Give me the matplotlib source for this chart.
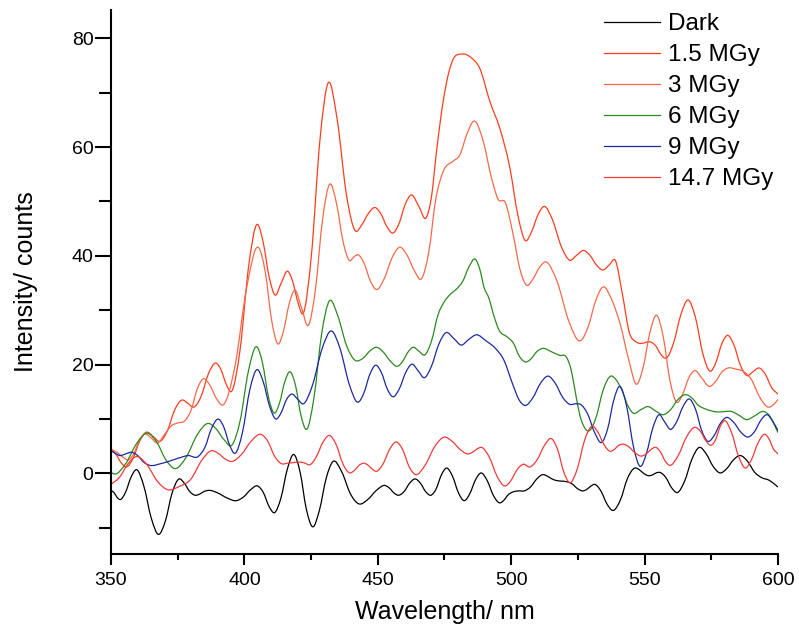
import matplotlib
matplotlib.use("Agg")
import numpy as np
import matplotlib.pyplot as plt
from matplotlib.lines import Line2D
from matplotlib.path import Path
from matplotlib.patches import PathPatch
from matplotlib.ticker import MultipleLocator

plt.rcParams["font.family"] = ["Liberation Sans", "DejaVu Sans"]

# luminescence spectra (wavelength in nm, intensity in counts)
DARK = [
    (350, -3.1), (351.1, -3.5), (352.3, -4.4), (353.4, -4.8), (355.5, -3.4), (357.5, -0.7),
    (359.6, 0.7), (362.3, -2.3), (365.1, -8.2), (367.8, -11.2), (370.4, -8.7), (372.9, -3.6),
    (375.5, -1.0), (377.5, -1.8), (379.5, -3.3), (381.5, -4.0), (383.2, -3.8), (384.9, -3.3),
    (386.6, -3.1), (390.1, -3.6), (393.5, -4.5), (397, -5.0), (399.7, -4.3), (402.3, -3.0),
    (405, -2.3), (407.1, -3.5), (409.2, -6.0), (411.3, -7.2), (413.7, -4.5), (416.1, 0.8),
    (418.5, 3.5), (420.9, 0.2), (423.2, -6.5), (425.6, -9.8), (428.1, -6.8), (430.7, -0.8),
    (433.2, 2.2), (436.5, 0.3), (439.7, -3.7), (443, -5.6), (446.2, -4.8), (449.5, -3.1),
    (452.7, -2.2), (454.4, -2.7), (456.1, -3.6), (457.8, -4.0), (459.9, -3.3), (461.9, -1.8),
    (464, -1.0), (466, -1.8), (467.9, -3.3), (469.9, -4.0), (471.9, -2.8), (473.8, -0.3),
    (475.8, 1.0), (478, -0.5), (480.2, -3.5), (482.4, -5.0), (484.5, -3.7), (486.6, -1.2),
    (488.7, 0.1), (491, -1.3), (493.3, -4.0), (495.6, -5.4), (497.3, -4.9), (498.9, -3.9),
    (500.6, -3.4), (502.8, -3.2), (504.9, -3.2), (507.2, -2.5), (509.6, -1.0), (511.9, -0.2),
    (513.6, -0.5), (515.3, -1.0), (517, -1.3), (518.9, -1.4), (520.7, -1.5), (522.8, -1.9),
    (524.9, -2.8), (527, -3.2), (528.4, -2.9), (529.9, -2.3), (531.3, -2.0), (533.6, -3.2),
    (535.9, -5.6), (538.2, -6.8), (540.9, -4.9), (543.6, -0.9), (546.3, 1.0), (548, 0.7),
    (549.7, 0.0), (551.4, -0.4), (552.8, -0.3), (554.3, 0.1), (555.7, 0.2), (557.9, -0.7),
    (560.1, -2.6), (562.3, -3.5), (565, -1.4), (567.8, 2.7), (570.5, 4.8), (573.1, 3.6),
    (575.7, 1.3), (578.3, 0.1), (580.8, 0.9), (583.3, 2.5), (585.8, 3.3), (588.5, 2.3),
    (591.3, 0.2), (594, -0.8), (596.5, -1.2), (598.3, -1.8), (600, -2.5),
]

MGY_1_5 = [
    (350, 4.3), (351.9, 3.5), (353.9, 1.9), (355.8, 1.2), (358.3, 2.8), (360.8, 6.0),
    (363.3, 7.6), (365.8, 6.8), (368.3, 5.9), (371.1, 7.8), (373.8, 11.6), (376.6, 13.5),
    (378.8, 12.9), (381, 12.2), (383.8, 14.2), (386.5, 18.3), (389.3, 20.3), (391.3, 19.0),
    (393.2, 16.4), (395.2, 15.1), (398.4, 22.8), (401.6, 38.1), (404.8, 45.8), (407, 42.6),
    (409.3, 36.1), (411.5, 32.8), (413.8, 35.0), (416.2, 37.2), (418.1, 35.3), (420.1, 31.4),
    (422, 29.4), (425.1, 40.0), (428.3, 61.2), (431.4, 71.8), (434.8, 65.0), (438.2, 51.4),
    (441.6, 44.6), (444, 45.7), (446.5, 47.8), (448.9, 48.9), (451.2, 47.7), (453.4, 45.4),
    (455.7, 44.2), (458, 46.0), (460.3, 49.5), (462.6, 51.2), (465.4, 49.1), (468.1, 47.0),
    (470, 50.5), (472.2, 60.0), (474.5, 68.4), (476.5, 73.5), (478.2, 76.1), (481.4, 77.1),
    (485.1, 76.4), (488.2, 74.5), (492, 68.4), (495.7, 63.5), (499.5, 56.2), (502.5, 47.5),
    (505.3, 42.8), (507.6, 44.4), (510, 47.5), (512.3, 49.1), (515.5, 46.6), (518.8, 41.7),
    (522, 39.2), (524.5, 40.1), (527.1, 41.0), (529.5, 40.1), (532, 38.3), (534.4, 37.4),
    (536.7, 38.3), (539.1, 39.1), (541.5, 33.5), (544.4, 25.7), (546.5, 24.3), (548.8, 23.9),
    (550.4, 24.1), (552, 24.2), (554.1, 23.5), (556.1, 21.9), (558.1, 21.2), (560.8, 23.9),
    (563.6, 29.2), (566.3, 31.9), (569.1, 28.6), (571.8, 22.1), (574.6, 18.8), (576.8, 20.5),
    (578.9, 23.8), (581.1, 25.4), (583.5, 23.6), (585.9, 19.9), (588.3, 18.0), (590.6, 18.7),
    (592.9, 19.4), (595.3, 18.2), (597.6, 15.8), (600, 14.6),
]

MGY_3 = [
    (350, 4.5), (351.5, 4.1), (353, 3.6), (354.8, 2.9), (356.5, 2.5), (358.6, 3.7),
    (360.6, 6.1), (362.7, 7.3), (365.1, 6.5), (367.5, 5.6), (370.1, 7.2), (372.7, 8.8),
    (375.2, 9.3), (377.7, 9.7), (380, 11.6), (382.3, 15.5), (384.6, 17.4), (387.1, 16.2),
    (389.5, 13.8), (392, 12.6), (396.5, 19.8), (400.9, 34.3), (405.4, 41.5), (407.8, 37.1),
    (410.2, 28.2), (412.6, 23.8), (414.7, 26.3), (416.8, 31.2), (418.9, 33.7), (421.4, 30.5),
    (423.9, 27.2), (426.6, 33.7), (429.3, 46.7), (432, 53.2), (434.5, 49.7), (437, 42.6),
    (439.5, 39.1), (441, 39.8), (442.6, 40.2), (444.9, 38.6), (447.2, 35.4), (449.5, 33.8),
    (452.4, 35.8), (455.4, 39.7), (458.3, 41.6), (461, 40.1), (463.7, 37.3), (466.4, 35.8),
    (469.1, 40.7), (471.8, 50.6), (474.5, 55.5), (478.2, 57.4), (480.7, 58.5), (483.5, 62.5),
    (486.2, 64.8), (489.5, 61.1), (492.6, 54.4), (495.1, 50.4), (497.8, 49.8), (500.7, 44.0),
    (503.3, 37.5), (505.8, 34.6), (508.1, 35.7), (510.5, 37.8), (512.8, 38.9), (517.2, 35.3),
    (521.6, 28.0), (526, 24.4), (528.8, 26.9), (531.7, 31.8), (534.5, 34.3), (537.8, 31.8),
    (541, 27.2), (544, 21.0), (547, 16.4), (549.5, 19.6), (552, 25.9), (554.5, 29.1),
    (557, 25.1), (559.5, 17.1), (562, 13.1), (564.3, 14.6), (566.5, 17.5), (568.8, 18.9),
    (571.5, 17.5), (574.2, 16.0), (576.6, 16.9), (578.9, 18.6), (581.3, 19.4), (584.1, 19.2),
    (586.9, 18.8), (590, 17.3), (593.2, 14.0), (596.3, 12.2), (598.2, 12.6), (600, 13.6),
]

MGY_6 = [
    (350, 0.2), (351.4, -0.1), (355.5, 1.8), (359.6, 5.5), (363.7, 7.4), (367.1, 5.8),
    (370.6, 2.5), (374, 0.9), (378.2, 3.0), (382.3, 7.1), (386.5, 9.2), (389.4, 8.2),
    (392.4, 6.2), (395.3, 5.2), (398.4, 9.7), (401.5, 18.8), (404.6, 23.3), (406.8, 20.3),
    (409, 14.1), (411.2, 11.1), (413.2, 13.0), (415.1, 16.8), (417.1, 18.7), (419.2, 16.1),
    (421.2, 10.7), (423.3, 8.1), (426.1, 14.0), (429, 25.8), (431.8, 31.7), (435, 29.0),
    (438.3, 23.5), (441.5, 20.8), (444.5, 21.2), (447, 22.5), (449.5, 23.2), (452.1, 22.3),
    (454.8, 20.6), (457.4, 19.7), (459.3, 20.6), (461.3, 22.3), (463.2, 23.2), (465.4, 22.5),
    (467.6, 21.8), (470.1, 24.3), (472.6, 29.2), (475.1, 31.7), (477.3, 33.0), (479.5, 33.9),
    (481.8, 35.3), (484.2, 38.0), (486.5, 39.4), (488.2, 37.6), (489.9, 34.1), (491.6, 32.3),
    (493.5, 29.0), (495.4, 26.4), (498.5, 25.1), (500.8, 24.0), (503, 21.6), (505.3, 20.5),
    (507.5, 21.1), (509.6, 22.4), (511.8, 23.0), (515, 22.4), (518.2, 21.7), (520.7, 21.4),
    (522.5, 19.0), (524.2, 14.5), (525.8, 10.6), (527.3, 8.6), (529, 7.8), (531.8, 10.3),
    (534.5, 15.4), (537.3, 17.9), (539.5, 17.1), (541.6, 15.2), (543.6, 12.6), (545.7, 11.1),
    (548.5, 11.7), (551.3, 12.3), (554.1, 11.5), (556.9, 10.8), (559.7, 11.7), (562.5, 13.6),
    (565.3, 14.5), (567.7, 13.9), (570.2, 12.5), (572.6, 11.9), (575.1, 11.5), (577.6, 11.3),
    (580.1, 11.4), (582.6, 11.4), (585.4, 10.7), (588.2, 9.9), (591.3, 10.6), (594.4, 11.4),
    (597, 10.5), (598.6, 9.0), (600, 7.5),
]

MGY_9 = [
    (350, 4.2), (351.6, 3.7), (353.3, 3.3), (355.5, 3.6), (357.7, 3.9), (360, 3.3),
    (362.2, 2.1), (364.5, 1.5), (368.6, 1.8), (372.7, 2.4), (375.8, 2.9), (378.9, 3.3),
    (382.6, 3.1), (385.2, 4.8), (387.7, 8.3), (390.3, 10.0), (392.4, 8.4), (394.4, 5.3),
    (396.5, 3.7), (399.3, 7.6), (402, 15.3), (404.8, 19.1), (407.1, 16.8), (409.5, 12.3),
    (411.8, 10.0), (413.8, 11.2), (415.7, 13.5), (417.7, 14.6), (419.9, 13.7), (422, 12.8),
    (425.5, 16.2), (429.1, 22.9), (432.6, 26.2), (435.9, 22.9), (439.3, 16.4), (442.6, 13.1),
    (444.8, 14.8), (447, 18.2), (449.2, 19.9), (451.4, 18.5), (453.5, 15.6), (455.7, 14.1),
    (458.1, 15.6), (460.5, 18.6), (462.9, 20.1), (465.1, 18.9), (467.4, 17.6), (470.1, 19.7),
    (472.9, 23.8), (475.6, 25.9), (478.5, 24.8), (481.3, 23.6), (484, 24.6), (487, 25.5),
    (490.5, 24.4), (494.1, 23.0), (497.3, 20.8), (500.5, 16.5), (503, 13.5), (505.2, 12.5),
    (508.1, 13.9), (511, 16.6), (513.8, 17.9), (516.5, 16.6), (519.3, 14.0), (522, 12.7),
    (524, 12.8), (526, 12.7), (528.6, 11.0), (531.3, 7.5), (533.9, 5.7), (536.2, 8.3),
    (538.4, 13.4), (540.7, 16.0), (543.3, 12.3), (545.8, 5.0), (548.4, 1.3), (550.7, 3.7),
    (553.1, 8.4), (555.4, 10.8), (557.5, 9.5), (559.7, 8.1), (562, 9.5), (564.4, 12.3),
    (566.7, 13.7), (569.1, 11.8), (571.4, 7.9), (573.8, 5.9), (576.1, 7.0), (578.4, 9.2),
    (580.7, 10.3), (583.4, 9.4), (586.1, 7.6), (588.8, 6.7), (591.2, 7.7), (593.6, 9.8),
    (596, 10.8), (598, 9.6), (600, 7.9),
]

MGY_14_7 = [
    (350, -2.0), (353.2, -0.7), (356.4, 1.8), (359.6, 3.1), (363.5, 1.6), (367.5, -1.5),
    (371.4, -3.0), (375.5, -2.4), (380, -1.0), (384, 2.4), (387.7, 4.2), (390.2, 3.7),
    (392.7, 2.7), (395.2, 2.2), (398.9, 3.5), (402.5, 5.9), (406.2, 7.2), (408.8, 5.9),
    (411.3, 3.2), (413.9, 1.8), (416.2, 1.9), (418.5, 2.0), (420.8, 2.1), (422.7, 1.9),
    (424.5, 1.6), (426.9, 3.0), (429.4, 5.7), (431.8, 7.0), (434.4, 5.3), (436.9, 1.8),
    (439.5, 0.1), (441.3, 0.6), (443, 1.5), (444.8, 1.9), (446.4, 1.5), (447.9, 0.8),
    (449.5, 0.4), (452, 1.8), (454.5, 4.5), (457, 5.8), (459.4, 4.3), (461.7, 1.3),
    (464.1, -0.2), (467.7, 1.5), (471.4, 5.0), (475, 6.7), (477.9, 5.9), (480.9, 4.4),
    (483.8, 3.6), (485.5, 3.9), (487.2, 4.5), (488.9, 4.8), (491.8, 3.0), (494.7, -0.5),
    (497.6, -2.3), (499.9, -1.3), (502.2, 0.7), (504.5, 1.7), (507, 1.2), (509.7, 2.5),
    (512.4, 5.1), (515.1, 6.4), (517.4, 4.4), (519.7, 0.3), (522, -1.7), (524.8, 0.9),
    (527.5, 6.1), (530.3, 8.7), (532.5, 7.6), (534.8, 5.3), (537, 4.1), (538.6, 4.4),
    (540.1, 5.1), (541.7, 5.4), (544.1, 4.9), (546.4, 3.8), (548.8, 3.2), (550.6, 3.6),
    (552.4, 4.4), (554.2, 4.8), (555.9, 4.0), (557.7, 2.3), (559.4, 1.5), (562.6, 3.3),
    (565.8, 6.8), (569, 8.5), (571, 7.7), (573, 6.0), (575, 5.2), (576.7, 6.3),
    (578.3, 8.6), (580, 9.7), (582.6, 7.5), (585.2, 3.2), (587.8, 1.0), (590.1, 2.6),
    (592.5, 5.6), (595, 7.2), (596.7, 6.3), (598.3, 4.5), (600, 3.6),
]

SERIES = [
    ("Dark", DARK, "#000000"),
    ("1.5 MGy", MGY_1_5, "#ff3c1e"),
    ("3 MGy", MGY_3, "#f4694a"),
    ("6 MGy", MGY_6, "#2b8a1e"),
    ("9 MGy", MGY_9, "#1c2a9c"),
    ("14.7 MGy", MGY_14_7, "#f43a3a"),
]


def spline_connect(pts):
    # smooth "spline" line connection: cubic Hermite segments through the points
    x = np.array([p[0] for p in pts], dtype=float)
    y = np.array([p[1] for p in pts], dtype=float)
    h = np.diff(x)
    d = np.diff(y) / h
    m = np.empty_like(x)
    m[0], m[-1] = d[0], d[-1]
    m[1:-1] = (h[1:] * d[:-1] + h[:-1] * d[1:]) / (h[:-1] + h[1:])
    verts = [(x[0], y[0])]
    codes = [Path.MOVETO]
    for i in range(len(h)):
        verts += [(x[i] + h[i] / 3, y[i] + m[i] * h[i] / 3),
                  (x[i + 1] - h[i] / 3, y[i + 1] - m[i + 1] * h[i] / 3),
                  (x[i + 1], y[i + 1])]
        codes += [Path.CURVE4] * 3
    return Path(verts, codes)


fig = plt.figure(figsize=(7.99, 6.37), dpi=100)
ax = fig.add_axes([0.1389, 0.1303, 0.8348, 0.854])

handles = []
for label, pts, color in SERIES:
    ax.add_patch(PathPatch(spline_connect(pts), facecolor="none", edgecolor=color, lw=0.9))
    handles.append(Line2D([], [], color=color, lw=0.9, label=label))

ax.set_xlim(350, 600)
ax.set_ylim(-14.8, 85.2)

ax.spines["top"].set_visible(False)
ax.spines["right"].set_visible(False)
for side in ("left", "bottom"):
    ax.spines[side].set_linewidth(1.5)

ax.xaxis.set_major_locator(MultipleLocator(50))
ax.xaxis.set_minor_locator(MultipleLocator(25))
ax.yaxis.set_major_locator(MultipleLocator(20))
ax.yaxis.set_minor_locator(MultipleLocator(10))
ax.tick_params(axis="x", which="major", length=8, width=1.5, pad=5, labelsize=14)
ax.tick_params(axis="x", which="minor", length=4.3, width=1.5)
ax.tick_params(axis="y", which="major", length=11.5, width=1.5, pad=1, labelsize=14)
ax.tick_params(axis="y", which="minor", length=8.6, width=1.5)

ax.set_xlabel("Wavelength/ nm", fontsize=18, labelpad=8)
ax.set_ylabel("Intensity/ counts", fontsize=18, labelpad=24)

ax.legend(handles=handles, loc="upper left", bbox_to_anchor=(0.756, 0.979),
          bbox_transform=fig.transFigure, frameon=False, fontsize=17.5,
          handlelength=2.3, handletextpad=0.35, labelspacing=0.37,
          borderpad=0, borderaxespad=0)

fig.savefig("out.png", dpi=100)
